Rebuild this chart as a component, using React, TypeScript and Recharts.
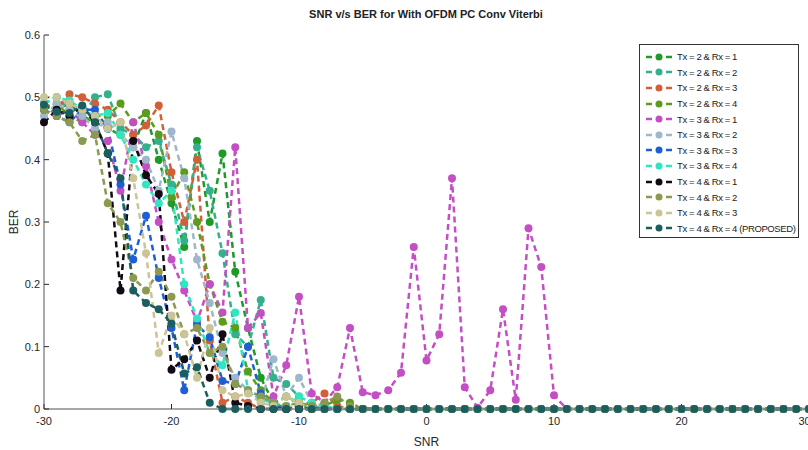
import { LineChart, Line, XAxis, YAxis } from 'recharts';

// SNR axis, one point per dB
const SNR = [
  -30, -29, -28, -27, -26, -25, -24, -23, -22, -21,
  -20, -19, -18, -17, -16, -15, -14, -13, -12, -11,
  -10, -9, -8, -7, -6, -5, -4, -3, -2, -1,
  0, 1, 2, 3, 4, 5, 6, 7, 8, 9, 10,
  11, 12, 13, 14, 15, 16, 17, 18, 19, 20,
  21, 22, 23, 24, 25, 26, 27, 28, 29, 30,
];

const X_TICKS = [-30, -20, -10, 0, 10, 20, 30];
const Y_TICKS = [0, 0.1, 0.2, 0.3, 0.4, 0.5, 0.6];

// BER per series, SNR -30 … 30
const tx2rx1 = [
  0.49, 0.48, 0.49, 0.47, 0.46, 0.45, 0.44, 0.42, 0.475, 0.40,
  0.33, 0.26, 0.43, 0.30, 0.41, 0.22, 0.13, 0.05, 0.01, 0,
  0.005, 0, 0, 0, 0, 0, 0, 0, 0, 0,
  0, 0, 0, 0, 0, 0, 0, 0, 0, 0, 0,
  0, 0, 0, 0, 0, 0, 0, 0, 0, 0,
  0, 0, 0, 0, 0, 0, 0, 0, 0, 0,
];
const tx2rx2 = [
  0.49, 0.50, 0.48, 0.47, 0.50, 0.505, 0.45, 0.44, 0.42, 0.43,
  0.36, 0.27, 0.42, 0.35, 0.25, 0.12, 0.10, 0.175, 0.05, 0.04,
  0.02, 0.005, 0, 0, 0, 0, 0, 0, 0, 0,
  0, 0, 0, 0, 0, 0, 0, 0, 0, 0, 0,
  0, 0, 0, 0, 0, 0, 0, 0, 0, 0,
  0, 0, 0, 0, 0, 0, 0, 0, 0, 0,
];
const tx2rx3 = [
  0.49, 0.48, 0.505, 0.50, 0.49, 0.48, 0.46, 0.44, 0.455, 0.487,
  0.38, 0.30, 0.40, 0.11, 0.01, 0.02, 0.01, 0, 0.01, 0,
  0.005, 0.01, 0.025, 0.005, 0, 0, 0, 0, 0, 0,
  0, 0, 0, 0, 0, 0, 0, 0, 0, 0, 0,
  0, 0, 0, 0, 0, 0, 0, 0, 0, 0,
  0, 0, 0, 0, 0, 0, 0, 0, 0, 0,
];
const tx2rx4 = [
  0.48, 0.49, 0.47, 0.46, 0.47, 0.47, 0.49, 0.46, 0.475, 0.44,
  0.34, 0.38, 0.30, 0.20, 0.14, 0.13, 0.06, 0.03, 0.01, 0.02,
  0.01, 0, 0.005, 0.015, 0.01, 0, 0, 0, 0, 0,
  0, 0, 0, 0, 0, 0, 0, 0, 0, 0, 0,
  0, 0, 0, 0, 0, 0, 0, 0, 0, 0,
  0, 0, 0, 0, 0, 0, 0, 0, 0, 0,
];
const tx3rx1 = [
  0.49, 0.47, 0.48, 0.46, 0.44, 0.43, 0.35, 0.46, 0.39, 0.30,
  0.24, 0.19, 0.14, 0.20, 0.155, 0.42, 0.13, 0.154, 0.02, 0.07,
  0.18, 0.025, 0.01, 0.035, 0.13, 0.027, 0.022, 0.03, 0.058, 0.26,
  0.078, 0.12, 0.37, 0.035, 0.002, 0.03, 0.16, 0.015, 0.29, 0.228, 0.022,
  0, 0, 0, 0, 0, 0, 0, 0, 0, 0,
  0, 0, 0, 0, 0, 0, 0, 0, 0, 0,
];
const tx3rx2 = [
  0.47, 0.49, 0.48, 0.47, 0.45, 0.46, 0.44, 0.42, 0.40, 0.35,
  0.445, 0.37, 0.24, 0.17, 0.09, 0.05, 0.03, 0.01, 0.08, 0.02,
  0.05, 0.01, 0, 0, 0, 0, 0, 0, 0, 0,
  0, 0, 0, 0, 0, 0, 0, 0, 0, 0, 0,
  0, 0, 0, 0, 0, 0, 0, 0, 0, 0,
  0, 0, 0, 0, 0, 0, 0, 0, 0, 0,
];
const tx3rx3 = [
  0.48, 0.47, 0.46, 0.48, 0.48, 0.45, 0.36, 0.24, 0.31, 0.21,
  0.13, 0.03, 0.135, 0.115, 0.045, 0.04, 0.10, 0.025, 0.005, 0,
  0, 0, 0, 0, 0, 0, 0, 0, 0, 0,
  0, 0, 0, 0, 0, 0, 0, 0, 0, 0, 0,
  0, 0, 0, 0, 0, 0, 0, 0, 0, 0,
  0, 0, 0, 0, 0, 0, 0, 0, 0, 0,
];
const tx3rx4 = [
  0.49, 0.50, 0.495, 0.48, 0.47, 0.475, 0.44, 0.40, 0.36, 0.33,
  0.35, 0.20, 0.145, 0.09, 0.07, 0.155, 0.03, 0.015, 0.01, 0.005,
  0.02, 0.01, 0.005, 0, 0, 0, 0, 0, 0, 0,
  0, 0, 0, 0, 0, 0, 0, 0, 0, 0, 0,
  0, 0, 0, 0, 0, 0, 0, 0, 0, 0,
  0, 0, 0, 0, 0, 0, 0, 0, 0, 0,
];
const tx4rx1 = [
  0.46, 0.48, 0.47, 0.485, 0.46, 0.41, 0.19, 0.43, 0.375, 0.345,
  0.063, 0.08, 0.11, 0.05, 0.12, 0.01, 0.005, 0, 0, 0,
  0, 0, 0, 0, 0, 0, 0, 0, 0, 0,
  0, 0, 0, 0, 0, 0, 0, 0, 0, 0, 0,
  0, 0, 0, 0, 0, 0, 0, 0, 0, 0,
  0, 0, 0, 0, 0, 0, 0, 0, 0, 0,
];
const tx4rx2 = [
  0.48, 0.47, 0.46, 0.43, 0.44, 0.33, 0.30, 0.21, 0.19, 0.22,
  0.18, 0.12, 0.13, 0.09, 0.10, 0.04, 0.03, 0.02, 0.01, 0.005,
  0.01, 0.005, 0.01, 0.02, 0.005, 0, 0, 0, 0, 0,
  0, 0, 0, 0, 0, 0, 0, 0, 0, 0, 0,
  0, 0, 0, 0, 0, 0, 0, 0, 0, 0,
  0, 0, 0, 0, 0, 0, 0, 0, 0, 0,
];
const tx4rx3 = [
  0.50, 0.50, 0.49, 0.48, 0.47, 0.45, 0.46, 0.37, 0.25, 0.09,
  0.15, 0.12, 0.05, 0.13, 0.03, 0.02, 0.025, 0.01, 0.005, 0.02,
  0.01, 0, 0, 0, 0, 0, 0, 0, 0, 0,
  0, 0, 0, 0, 0, 0, 0, 0, 0, 0, 0,
  0, 0, 0, 0, 0, 0, 0, 0, 0, 0,
  0, 0, 0, 0, 0, 0, 0, 0, 0, 0,
];
const tx4rx4 = [
  0.488, 0.477, 0.475, 0.487, 0.46, 0.41, 0.37, 0.19, 0.17, 0.16,
  0.137, 0.057, 0.067, 0.01, 0, 0, 0, 0, 0, 0,
  0, 0, 0, 0, 0, 0, 0, 0, 0, 0,
  0, 0, 0, 0, 0, 0, 0, 0, 0, 0, 0,
  0, 0, 0, 0, 0, 0, 0, 0, 0, 0,
  0, 0, 0, 0, 0, 0, 0, 0, 0, 0,
];

const SERIES = [
  { key: 'tx2rx1', name: 'Tx = 2 & Rx = 1', color: '#1f9a2a', values: tx2rx1 },
  { key: 'tx2rx2', name: 'Tx = 2 & Rx = 2', color: '#33b08c', values: tx2rx2 },
  { key: 'tx2rx3', name: 'Tx = 2 & Rx = 3', color: '#cf6038', values: tx2rx3 },
  { key: 'tx2rx4', name: 'Tx = 2 & Rx = 4', color: '#5c9c1c', values: tx2rx4 },
  { key: 'tx3rx1', name: 'Tx = 3 & Rx = 1', color: '#c44ec4', values: tx3rx1 },
  { key: 'tx3rx2', name: 'Tx = 3 & Rx = 2', color: '#a0b6cc', values: tx3rx2 },
  { key: 'tx3rx3', name: 'Tx = 3 & Rx = 3', color: '#1e5fd6', values: tx3rx3 },
  { key: 'tx3rx4', name: 'Tx = 3 & Rx = 4', color: '#2fe6c2', values: tx3rx4 },
  { key: 'tx4rx1', name: 'Tx = 4 & Rx = 1', color: '#120a14', values: tx4rx1 },
  { key: 'tx4rx2', name: 'Tx = 4 & Rx = 2', color: '#8b9a4e', values: tx4rx2 },
  { key: 'tx4rx3', name: 'Tx = 4 & Rx = 3', color: '#cbc496', values: tx4rx3 },
  { key: 'tx4rx4', name: 'Tx = 4 & Rx = 4 (PROPOSED)', color: '#1b5e5e', values: tx4rx4 },
];

const rows = SNR.map((snr, i) => {
  const row: Record<string, number> = { snr };
  SERIES.forEach(s => { row[s.key] = s.values[i]; });
  return row;
});

const FONT = '"Liberation Sans", Arial, sans-serif';
const tickStyle = { fill: '#262626', fontSize: 11, fontFamily: FONT };

function LegendBox() {
  return (
    <div style={{
      position: 'absolute', left: 639, top: 44, width: 160, height: 194,
      border: '1px solid #333', background: '#fff', boxSizing: 'border-box',
      paddingTop: 4, fontFamily: FONT, fontSize: 9.5, color: '#222',
    }}>
      {SERIES.map(s => (
        <div key={s.key} style={{ display: 'flex', alignItems: 'center', height: 15.6 }}>
          <svg width={32} height={10} style={{ marginLeft: 5, flexShrink: 0 }}>
            <line x1={1} y1={5} x2={7} y2={5} stroke={s.color} strokeWidth={2.5} />
            <circle cx={14} cy={5} r={3.5} fill={s.color} />
            <line x1={21} y1={5} x2={27} y2={5} stroke={s.color} strokeWidth={2.5} />
          </svg>
          <span style={{ letterSpacing: -0.4, whiteSpace: 'nowrap' }}>{s.name}</span>
        </div>
      ))}
    </div>
  );
}

export default function App() {
  return (
    <div style={{ position: 'absolute', left: 0, top: 0, width: 808, height: 450, overflow: 'hidden', background: '#fff' }}>
      <div style={{
        position: 'absolute', top: 8, left: 0, width: 852, textAlign: 'center',
        fontFamily: FONT, fontSize: 11, fontWeight: 'bold', color: '#222',
      }}>
        SNR v/s BER for With OFDM PC Conv Viterbi
      </div>
      <LineChart
        width={810}
        height={450}
        data={rows}
        margin={{ top: 35, right: 1, left: 0, bottom: 0 }}
        style={{ position: 'absolute', left: 0, top: 0 }}
      >
        <XAxis
          dataKey="snr"
          type="number"
          domain={[-30, 30]}
          ticks={X_TICKS}
          allowDecimals={false}
          height={41}
          stroke="#8a8a8a"
          strokeWidth={1.5}
          tick={tickStyle}
          tickLine={{ stroke: '#262626', strokeWidth: 1 }}
          tickSize={-5}
          tickMargin={13}
          label={{ value: 'SNR', position: 'insideBottom', offset: 4, style: { fill: '#262626', fontSize: 12, fontFamily: FONT } }}
        />
        <YAxis
          type="number"
          domain={[0, 0.6]}
          ticks={Y_TICKS}
          width={44}
          stroke="#555"
          tick={tickStyle}
          tickFormatter={(v) => String(v)}
          tickLine={{ stroke: '#262626', strokeWidth: 1 }}
          tickSize={-5}
          tickMargin={9}
          label={{ value: 'BER', angle: -90, position: 'insideLeft', offset: 14, style: { fill: '#262626', fontSize: 12, fontFamily: FONT, textAnchor: 'middle' } }}
        />
        {SERIES.map(s => (
          <Line
            key={s.key}
            type="linear"
            dataKey={s.key}
            name={s.name}
            stroke={s.color}
            strokeWidth={2.5}
            strokeDasharray="6 4"
            dot={{ r: 4, fill: s.color, stroke: 'none', strokeDasharray: '' }}
            activeDot={false}
            isAnimationActive={false}
          />
        ))}
      </LineChart>
      <LegendBox />
    </div>
  );
}
